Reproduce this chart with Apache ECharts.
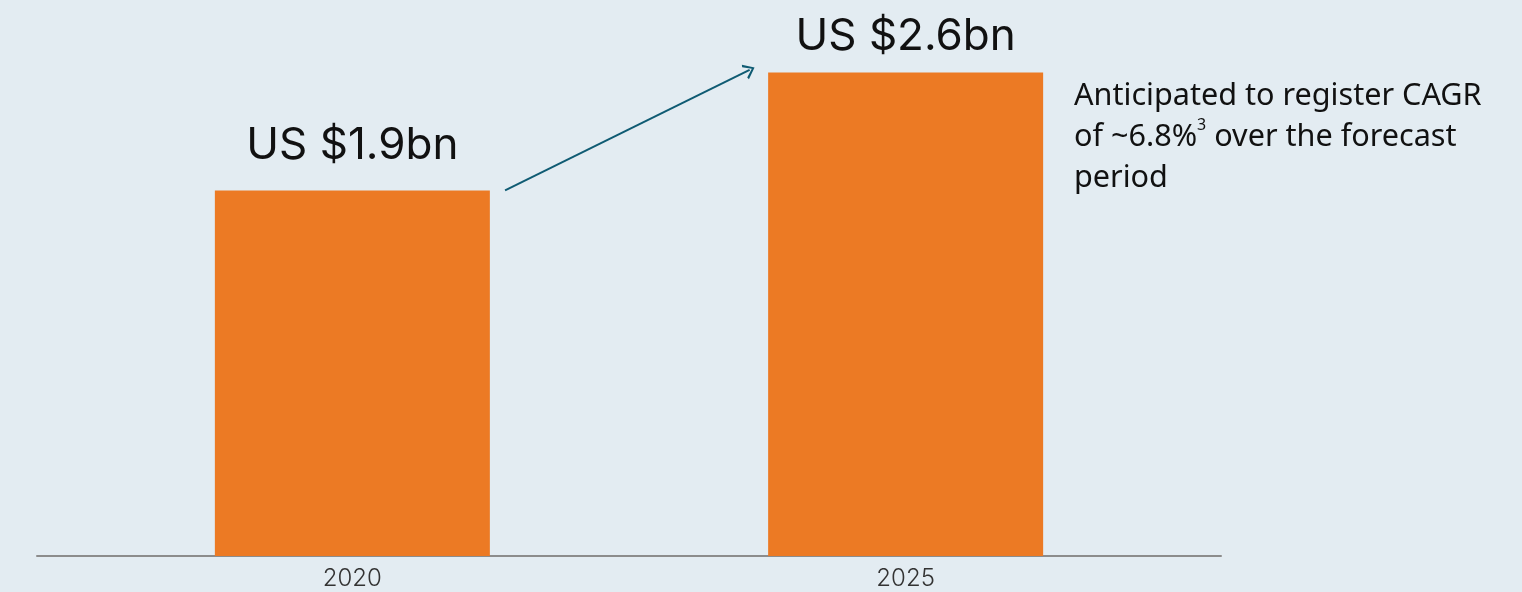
<!DOCTYPE html>
<html>
<head>
<meta charset="utf-8">
<script src="https://cdn.jsdelivr.net/npm/echarts@6/dist/echarts.min.js"></script>
<style>
  html, body { margin: 0; padding: 0; background: #e3ecf2; }
  #chart { width: 1522px; height: 592px; }
</style>
</head>
<body>
<div id="chart"></div>
<script>
// market size, US$ bn
const years = [2020, 2025]
const values = [1.9, 2.6]
const valueLabels = ['US $1.9bn', 'US $2.6bn']
const tickYears = [2020, 2025]

const Y_MIN = -0.27
const Y_MAX = 3.03
const BAR_W = 275
const LABEL_LIFT = [45, 36] // slide had labels nudged by hand

const chart = echarts.init(document.getElementById('chart'))

// bars start at the axis floor, not at zero, as in the source slide
function renderBar(params, api) {
  const top = api.coord([api.value(0), api.value(1)])
  const base = api.coord([api.value(0), Y_MIN])
  return {
    type: 'group',
    children: [
      {
        type: 'rect',
        shape: { x: top[0] - BAR_W / 2, y: top[1], width: BAR_W, height: base[1] - top[1] },
        style: { fill: '#ec7a24' },
      },
      {
        type: 'text',
        x: top[0],
        y: top[1] - LABEL_LIFT[params.dataIndex],
        style: {
          text: valueLabels[params.dataIndex],
          align: 'center',
          verticalAlign: 'middle',
          fill: '#111',
          fontSize: 44,
          fontFamily: 'Inter',
        },
      },
    ],
  }
}

chart.setOption({
  backgroundColor: '#e3ecf2',
  animation: false,
  grid: { top: 0, left: 37, right: 301, bottom: 36 },
  xAxis: {
    type: 'value',
    min: 2017.15,
    max: 2027.85,
    splitLine: { show: false },
    axisTick: { show: false },
    axisLine: { show: true, onZero: false, lineStyle: { color: '#8c8c8c', width: 2 } },
    axisLabel: {
      customValues: tickYears,
      formatter: v => String(v),
      color: '#333',
      fontSize: 24,
      fontFamily: 'Inter',
      fontWeight: 300,
      margin: 11,
    },
  },
  yAxis: {
    type: 'value',
    min: Y_MIN,
    max: Y_MAX,
    show: false,
  },
  series: [{
    type: 'custom',
    renderItem: renderBar,
    data: years.map((y, i) => [y, values[i]]),
    markLine: {
      silent: true,
      symbol: ['none', 'path://M0,10 L5,0 L10,10 L8.6,10.8 L5,3 L1.4,10.8 Z'],
      symbolSize: [16, 11],
      lineStyle: { color: '#0f5b73', width: 2, type: 'solid' },
      label: { show: false },
      data: [[
        { coord: [years[0] + 1.38, values[0]] },
        { coord: [years[1] - 1.41, values[1] + 0.015] },
      ]],
    },
  }],
  graphic: [{
    type: 'text',
    left: 1074,
    top: 76,
    style: {
      text: 'Anticipated to register CAGR\nof ~6.8%{sup|3} over the forecast\nperiod',
      fill: '#111',
      fontSize: 30.6,
      lineHeight: 41,
      fontFamily: 'Noto Sans',
      rich: {
        sup: { fontSize: 16, verticalAlign: 'top', lineHeight: 30, fill: '#111', fontFamily: 'Noto Sans' },
      },
    },
  }],
})
</script>
</body>
</html>
